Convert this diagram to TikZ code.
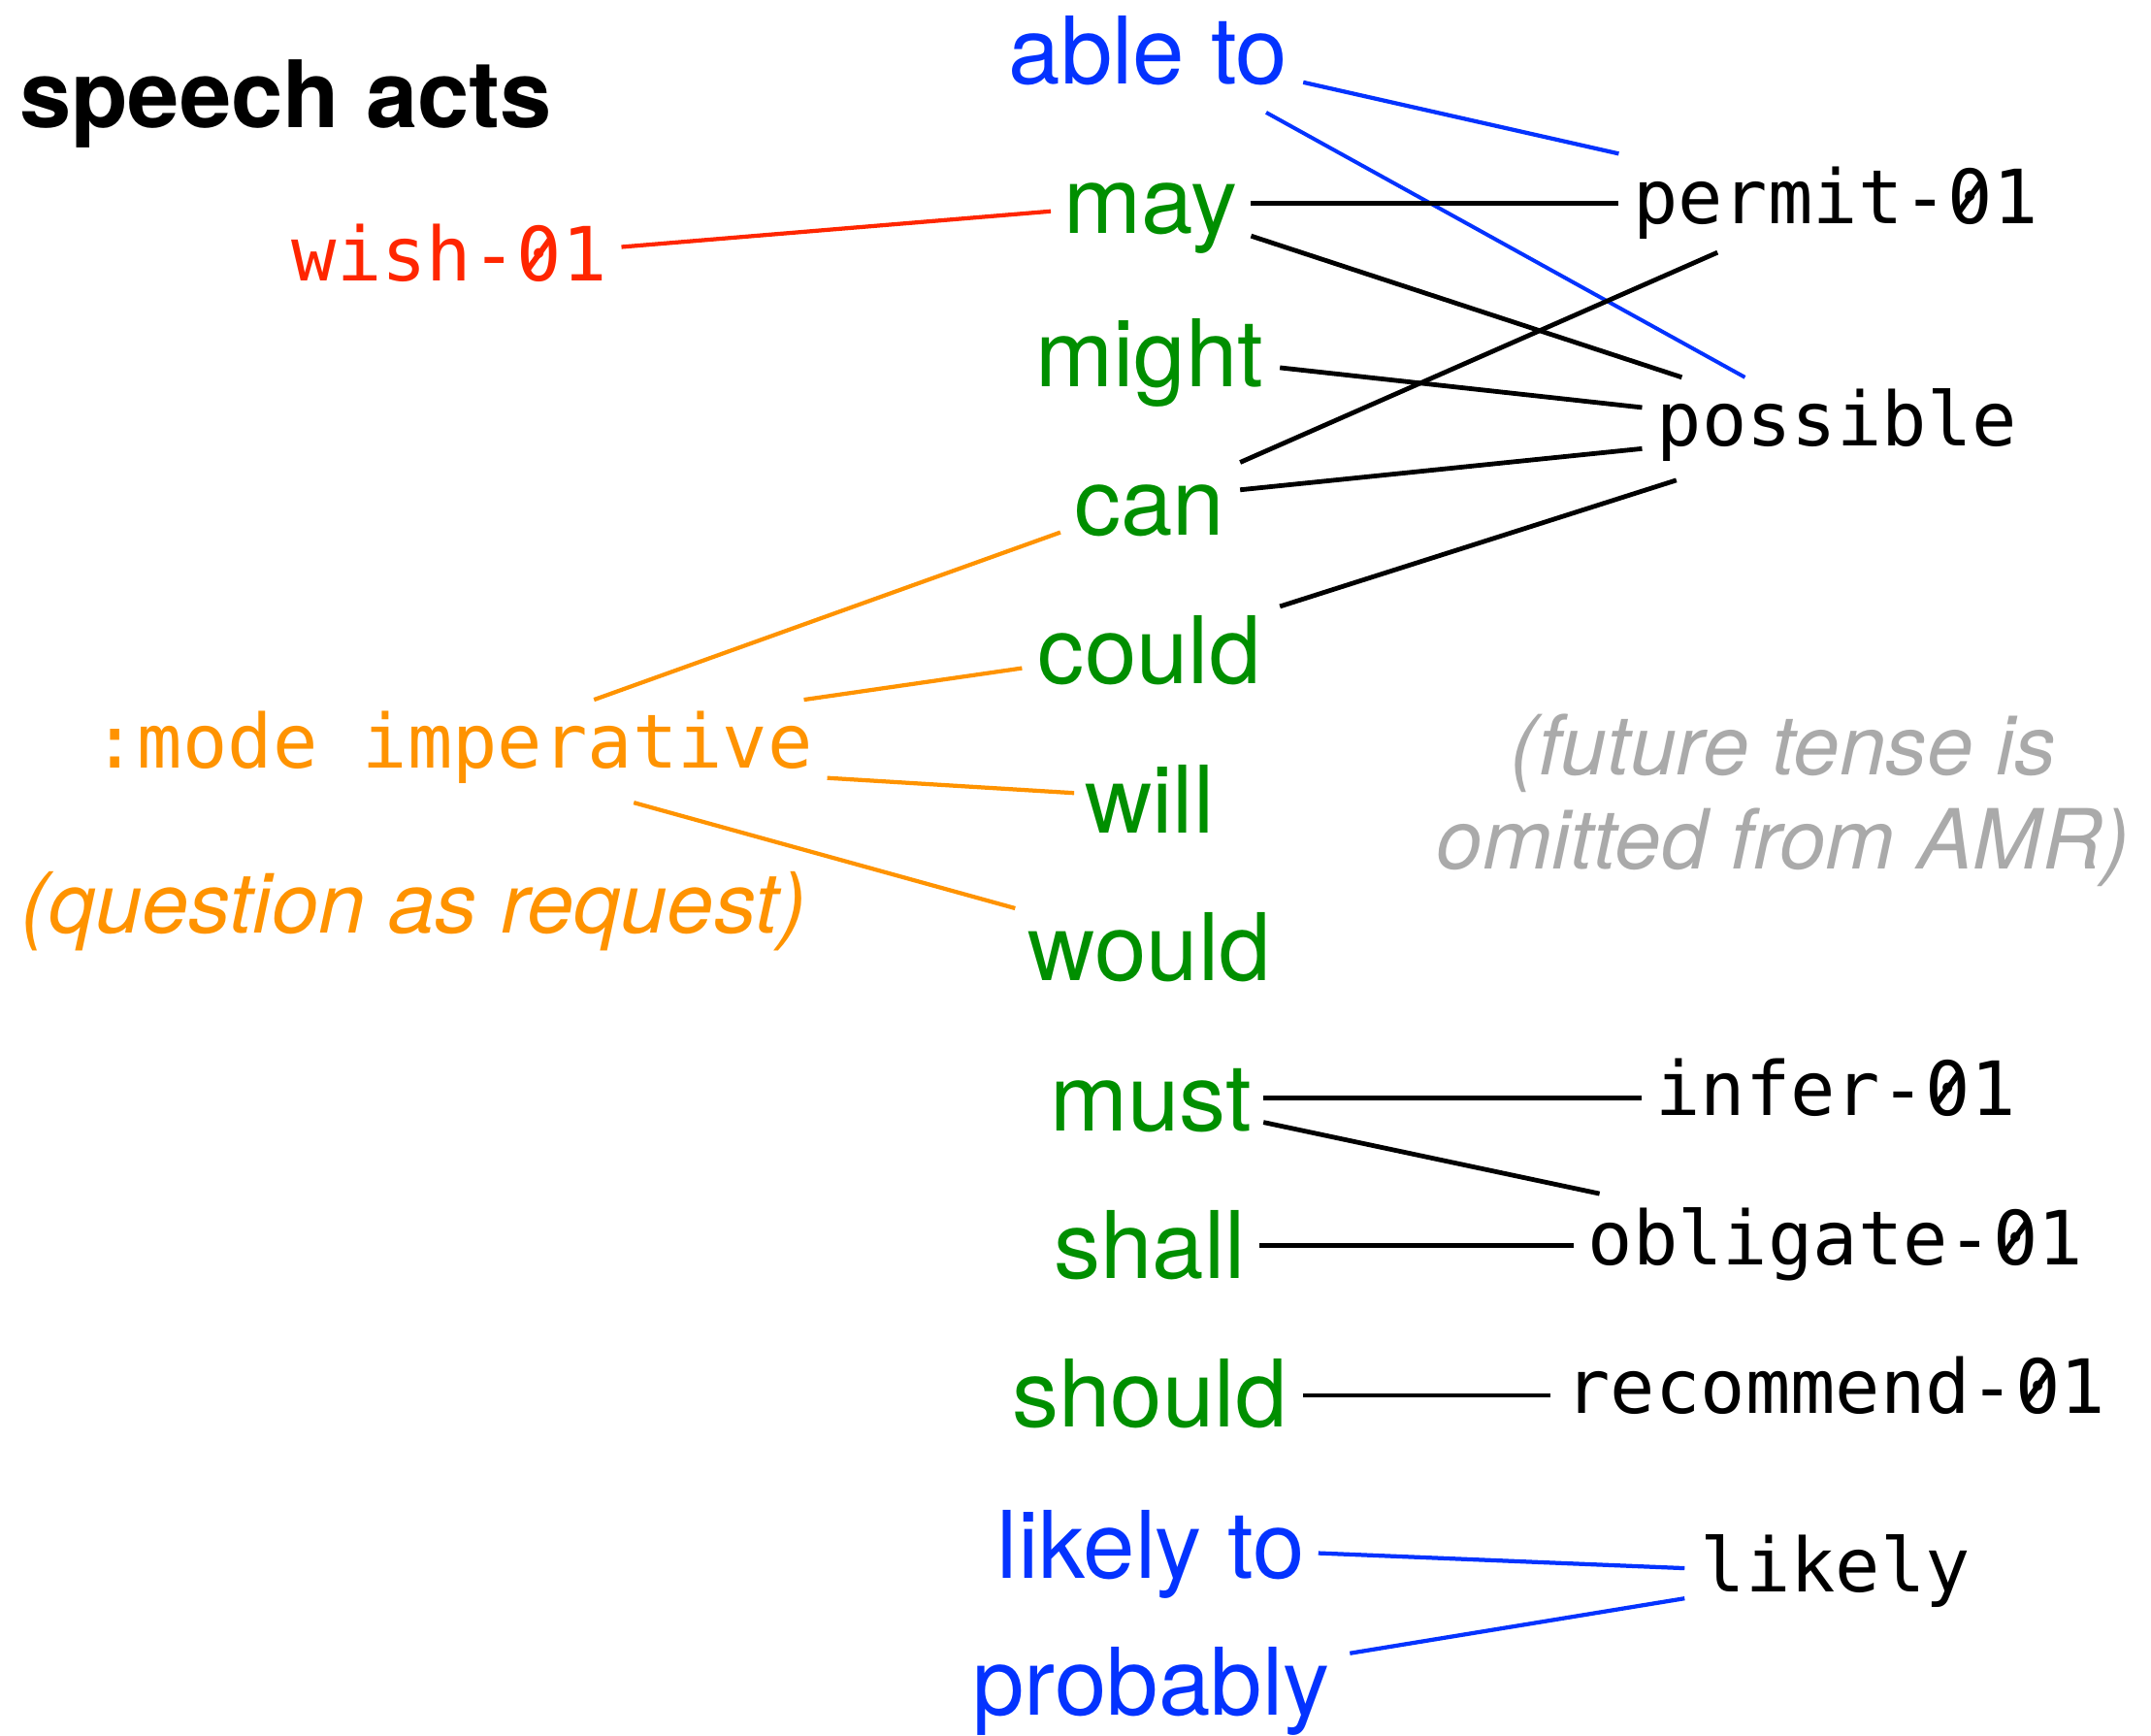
\documentclass[tikz,border=0pt]{standalone}
\usepackage{fontspec}
\setmainfont{TeX Gyre Heros}
\newfontfamily\amrfont{DejaVu Sans Mono}
\definecolor{kgreen}{RGB}{0,143,0}
\definecolor{kblue}{RGB}{4,51,255}
\definecolor{kred}{RGB}{255,38,0}
\definecolor{korange}{RGB}{255,147,0}
\definecolor{kgray}{RGB}{170,170,170}
% slashed zero, as in the reference's monospaced font
\newcommand\szero{\makebox[0pt][l]{0}\makebox[0.602em][c]{\raisebox{0.33em}{\rotatebox[origin=c]{54}{\rule{0.5em}{0.075em}}}}}
\begin{document}
\begin{tikzpicture}[x=1pt,y=-1pt,
  every node/.style={inner sep=0pt, anchor=base},
  modal/.style={text=kgreen, font=\fontsize{68}{80}\selectfont},
  phrase/.style={text=kblue, font=\fontsize{68}{80}\selectfont},
  amr/.style={text=black, font=\amrfont\fontsize{54.5}{60}\selectfont},
  note/.style={font=\itshape\fontsize{60.5}{68}\selectfont},
  link/.style={line width=3.4pt, line cap=butt}]
\useasboundingbox (0,0) rectangle (1568,1265);

% title
\node[anchor=base west, font=\bfseries\fontsize{67.8}{80}\selectfont] (title) at (14,93) {speech acts};

% middle column
\node[phrase] (able) at (837,61) {able to};
\node[modal] (may) at (839,170) {may};
\node[modal] (might) at (838,282) {might};
\node[modal] (can) at (838,390) {can};
\node[modal] (could) at (838,498) {could};
\node[modal] (will) at (838,607) {will};
\node[modal] (would) at (838,715) {would};
\node[modal] (must) at (839,824) {must};
\node[modal] (shall) at (838,932) {shall};
\node[modal] (should) at (838,1040) {should};
\node[phrase] (likelyto) at (839,1150) {likely to};
\node[phrase] (probably) at (839,1250) {probably};

% right column
\node[amr] (permit) at (1338,163) {permit-\szero1};
\node[amr] (possible) at (1339,325) {possible};
\node[amr] (infer) at (1338,813) {infer-\szero1};
\node[amr] (obligate) at (1338,922) {obligate-\szero1};
\node[amr] (recommend) at (1338,1030) {recommend-\szero1};
\node[amr] (likely) at (1338,1160) {likely};

% left column
\node[amr, text=kred] (wish) at (327.5,205) {wish-\szero1};
\node[amr, text=korange] (mode) at (330,560) {:mode imperative};
\node[note, text=korange, font=\itshape\fontsize{61.3}{68}\selectfont] (question) at (301.5,680) {(question as request)};
\node[note, text=kgray] (fut1) at (1300,565) {(future tense is};
\node[note, text=kgray] (fut2) at (1300,633) {omitted from AMR)};

% connectors
\draw[link, kblue, line width=3pt] ([shift={(113,-1)}]able.base) -- ([shift={(-158,-51)}]permit.base);
\draw[link, kblue, line width=2.8pt] ([shift={(86,21)}]able.base) -- ([shift={(-67,-50)}]possible.base);
\draw[link, kred, line width=3pt] ([shift={(125.5,-25)}]wish.base) -- ([shift={(-73,-16)}]may.base);
\draw[link] ([shift={(73,-22)}]may.base) -- ([shift={(-158,-15)}]permit.base);
\draw[link] ([shift={(73,2)}]may.base) -- ([shift={(-113,-50)}]possible.base);
\draw[link] ([shift={(95,-14)}]might.base) -- ([shift={(-142,-28)}]possible.base);
\draw[link] ([shift={(66,-53)}]can.base) -- ([shift={(-86,21)}]permit.base);
\draw[link] ([shift={(66,-33)}]can.base) -- ([shift={(-142,2)}]possible.base);
\draw[link] ([shift={(95,-56)}]could.base) -- ([shift={(-117,25)}]possible.base);
\draw[link, korange, line width=3pt] ([shift={(103,-50)}]mode.base) -- ([shift={(-65,-2)}]can.base);
\draw[link, korange, line width=3pt] ([shift={(256,-50)}]mode.base) -- ([shift={(-93,-11)}]could.base);
\draw[link, korange, line width=3pt] ([shift={(273,7)}]mode.base) -- ([shift={(-55,-29)}]will.base);
\draw[link, korange, line width=3pt] ([shift={(132,25)}]mode.base) -- ([shift={(-98,-53)}]would.base);
\draw[link] ([shift={(82,-24)}]must.base) -- ([shift={(-141,-13)}]infer.base);
\draw[link] ([shift={(82,-6)}]must.base) -- ([shift={(-172,-52)}]obligate.base);
\draw[link] ([shift={(80,-24)}]shall.base) -- ([shift={(-191,-14)}]obligate.base);
\draw[link] ([shift={(112,-23)}]should.base) -- ([shift={(-208,-13)}]recommend.base);
\draw[link, kblue, line width=3pt] ([shift={(122,-18)}]likelyto.base) -- ([shift={(-110,-17)}]likely.base);
\draw[link, kblue, line width=3pt] ([shift={(145,-45)}]probably.base) -- ([shift={(-110,5)}]likely.base);
\end{tikzpicture}
\end{document}
